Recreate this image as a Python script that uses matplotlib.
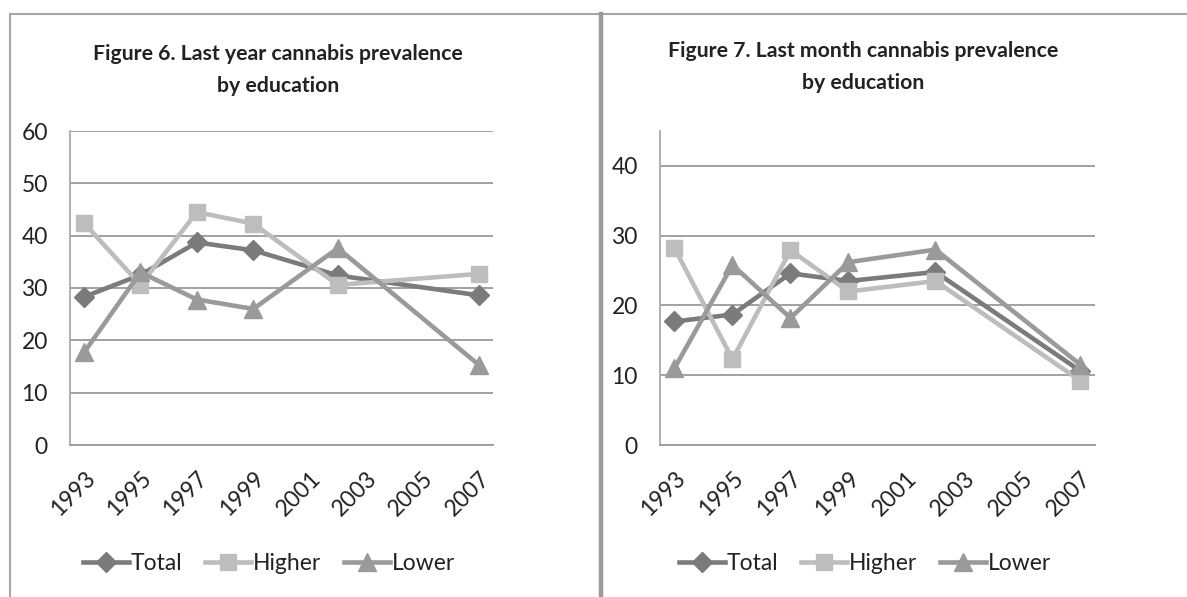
import matplotlib
matplotlib.use("Agg")
import matplotlib.pyplot as plt
from matplotlib.lines import Line2D

plt.rcParams['font.family'] = ['Lato', 'DejaVu Sans']

# Survey years (2002 falls between the 2001 and 2003 ticks)
years = [1993, 1995, 1997, 1999, 2002, 2007]
tick_years = [1993, 1995, 1997, 1999, 2001, 2003, 2005, 2007]

# Figure 6: last year prevalence (%)
year_total = [28.3, 32.5, 38.7, 37.2, 32.4, 28.6]
year_higher = [42.4, 30.6, 44.5, 42.3, 30.6, 32.7]
year_lower = [17.7, 33.0, 27.8, 26.0, 37.6, 15.3]

# Figure 7: last month prevalence (%)
month_total = [17.7, 18.7, 24.6, 23.5, 24.8, 10.6]
month_higher = [28.2, 12.3, 27.9, 22.0, 23.5, 9.2]
month_lower = [11.0, 25.8, 18.2, 26.2, 28.0, 11.5]

series_names = ['Total', 'Higher', 'Lower']
colors = ['#7b7b7b', '#bdbdbd', '#9a9a9a']
markers = ['D', 's', '^']
msizes = [10, 11, 12.5]

W, H = 1187, 597
fig = plt.figure(figsize=(W / 100, H / 100), dpi=100)
fig.patch.set_facecolor('white')

# Outer frame lines
frame_col = '#a6a6a6'
fig.add_artist(Line2D([10 / W, 1], [1 - 14 / H, 1 - 14 / H], color=frame_col, lw=1.5,
                      transform=fig.transFigure))
fig.add_artist(Line2D([10 / W, 10 / W], [0, 1 - 14 / H], color=frame_col, lw=1.5,
                      transform=fig.transFigure))
fig.add_artist(Line2D([600.5 / W, 600.5 / W], [0, 1 - 14 / H], color='#9a9a9a', lw=3.2,
                      transform=fig.transFigure))


def draw_panel(rect, data, ymax, yticks, title, title_x, title_y, legend_x):
    ax = fig.add_axes(rect)
    for vals, name, c, m, ms in zip(data, series_names, colors, markers, msizes):
        ax.plot(years, vals, color=c, lw=3.3, marker=m, markersize=ms,
                markerfacecolor=c, markeredgecolor=c, label=name, zorder=3,
                solid_joinstyle='round')
    ax.set_xlim(1992.5, 2007.5)
    ax.set_ylim(0, ymax)
    ax.set_yticks(yticks)
    ax.set_xticks(tick_years)
    ax.set_xticklabels([str(y) for y in tick_years], rotation=45, ha='right',
                       rotation_mode='anchor', fontsize=16.5, color='#222222')
    ax.tick_params(axis='y', labelsize=16.5, labelcolor='#222222', length=0, pad=16)
    ax.tick_params(axis='x', length=0, pad=16)
    ax.grid(axis='y', color='#9a9a9a', lw=1.3)
    ax.set_axisbelow(True)
    for s in ['top', 'right']:
        ax.spines[s].set_visible(False)
    ax.spines['left'].set_color('#aaaaaa')
    ax.spines['left'].set_linewidth(1.3)
    ax.spines['bottom'].set_color('#9a9a9a')
    ax.spines['bottom'].set_linewidth(1.3)
    fig.text(title_x, 1 - title_y / H, title, ha='center', va='center', fontsize=15.3,
             fontweight='bold', color='#222222', linespacing=1.8)
    handles = [Line2D([], [], color=c, lw=3.3, marker=m, markersize=ms,
                      markerfacecolor=c, markeredgecolor=c)
               for c, m, ms in zip(colors, markers, msizes)]
    fig.legend(handles, series_names, loc='center', bbox_to_anchor=(legend_x, 1 - 564 / H),
               ncol=3, frameon=False, fontsize=16.5, handlelength=2.0, handletextpad=0.08,
               columnspacing=1.0, labelcolor='#222222')
    return ax


draw_panel([70 / W, (H - 445) / H, 423 / W, 314 / H],
           [year_total, year_higher, year_lower], 60, [0, 10, 20, 30, 40, 50, 60],
           'Figure 6. Last year cannabis prevalence\nby education', 278 / W, 70, 269 / W)
draw_panel([660 / W, (H - 445) / H, 435 / W, 314 / H],
           [month_total, month_higher, month_lower], 45, [0, 10, 20, 30, 40],
           'Figure 7. Last month cannabis prevalence\nby education', 863 / W, 67, 865 / W)

fig.savefig('out.png', dpi=100, facecolor='white')
